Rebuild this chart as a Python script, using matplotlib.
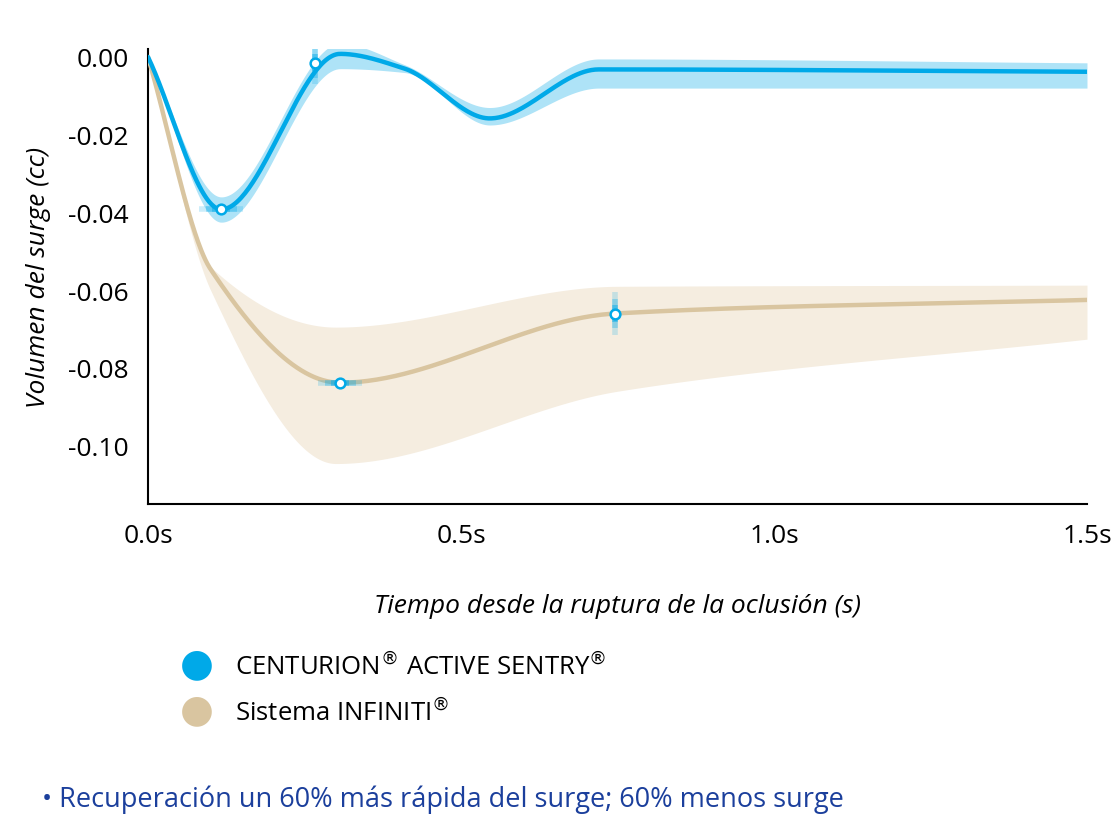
import numpy as np
import matplotlib
matplotlib.use("Agg")
import matplotlib.pyplot as plt

plt.rcParams['font.family'] = ['Open Sans', 'DejaVu Sans']

blue_t = [0.0, 0.117, 0.307, 0.41, 0.546, 0.72, 1.5]
blue_v = [0.0, -0.0392, 0.0008, -0.003, -0.0158, -0.0032, -0.0038]
blue_hi = [0.0, -0.036, 0.0035, -0.002, -0.013, -0.0005, -0.0015]
blue_lo = [0.0, -0.0425, -0.003, -0.004, -0.0175, -0.008, -0.008]

tan_t = [0.0, 0.1, 0.307, 0.746, 1.5]
tan_v = [0.0, -0.0546, -0.0838, -0.066, -0.0625]
tan_hi_t = [0.0, 0.1, 0.3, 0.75, 1.5]
tan_hi = [0.0, -0.054, -0.0695, -0.059, -0.0587]
tan_lo_t = [0.0, 0.1, 0.3, 0.75, 1.5]
tan_lo = [0.0, -0.060, -0.1046, -0.086, -0.0726]

markers_blue = [(0.117, -0.0392, 'h'), (0.267, -0.0015, 'v')]
markers_tan = [(0.307, -0.0838, 'h'), (0.746, -0.066, 'v')]

xticks = [0.0, 0.5, 1.0, 1.5]
xticklabels = ['0.0s', '0.5s', '1.0s', '1.5s']
yticks = [0.0, -0.02, -0.04, -0.06, -0.08, -0.10]
yticklabels = ['0.00', '-0.02', '-0.04', '-0.06', '-0.08', '-0.10']

BLUE = '#00a9e8'
BLUE_BAND = '#aee3f7'
TAN = '#d9c5a0'
TAN_BAND = '#f5ede0'


def smooth(x, y, n=60):
    x = np.asarray(x, float); y = np.asarray(y, float)
    h = np.diff(x); d = np.diff(y) / h
    m = np.zeros_like(y)
    m[0] = d[0]; m[-1] = d[-1]
    for i in range(1, len(x) - 1):
        if d[i - 1] * d[i] <= 0:
            m[i] = 0
        else:
            w1 = 2 * h[i] + h[i - 1]; w2 = h[i] + 2 * h[i - 1]
            m[i] = (w1 + w2) / (w1 / d[i - 1] + w2 / d[i])
    xs, ys = [], []
    for i in range(len(x) - 1):
        s = np.linspace(0, 1, n, endpoint=False)
        h00 = 2*s**3 - 3*s**2 + 1; h10 = s**3 - 2*s**2 + s
        h01 = -2*s**3 + 3*s**2; h11 = s**3 - s**2
        xs.append(x[i] + s * h[i])
        ys.append(h00*y[i] + h10*h[i]*m[i] + h01*y[i+1] + h11*h[i]*m[i+1])
    xs.append([x[-1]]); ys.append([y[-1]])
    return np.concatenate(xs), np.concatenate(ys)


fig = plt.figure(figsize=(11.16, 8.37), dpi=100)
ax = fig.add_axes([0.1326, 0.3967, 0.8414, 0.5433])

grid = np.linspace(0, 1.5, 600)
for t, v, ht, hi, lt, lo, c, bc in [(tan_t, tan_v, tan_hi_t, tan_hi, tan_lo_t, tan_lo, TAN, TAN_BAND),
                                    (blue_t, blue_v, blue_t, blue_hi, blue_t, blue_lo, BLUE, BLUE_BAND)]:
    xh, yh = smooth(ht, hi); xl, yl = smooth(lt, lo)
    ax.fill_between(grid, np.interp(grid, xl, yl), np.interp(grid, xh, yh), color=bc, lw=0, zorder=1)
    xs, ys = smooth(t, v)
    ax.plot(xs, ys, color=c, lw=3.2, zorder=3, solid_capstyle='round')

for mk in markers_blue + markers_tan:
    t, v, o = mk
    for k, a in [(1.0, 0.2), (0.7, 0.3), (0.4, 0.45)]:
        if o == 'h':
            ax.plot([t - 0.035 * k, t + 0.035 * k], [v, v], color=BLUE, lw=4, alpha=a, zorder=4,
                    solid_capstyle='butt')
        else:
            ax.plot([t, t], [v - 0.0055 * k, v + 0.0055 * k], color=BLUE, lw=4, alpha=a, zorder=4,
                    solid_capstyle='butt')
    ax.plot([t], [v], 'o', ms=7, mfc='white', mec=BLUE, mew=1.8, zorder=5)

ax.set_xlim(0, 1.5)
ax.set_ylim(-0.115, 0.002)
ax.set_xticks(xticks); ax.set_xticklabels(xticklabels)
ax.set_yticks(yticks); ax.set_yticklabels(yticklabels)
ax.tick_params(length=0, labelsize=19, pad=14)
for s in ['top', 'right']:
    ax.spines[s].set_visible(False)
for s in ['left', 'bottom']:
    ax.spines[s].set_linewidth(1.5)
ax.set_ylabel('Volumen del surge (cc)', fontsize=19, style='italic', labelpad=12)
ax.set_xlabel('Tiempo desde la ruptura de la oclusión (s)', fontsize=19, style='italic', labelpad=32)

fig.text(0.1765, 1 - 665 / 837, '●', color=BLUE, fontsize=28, ha='center', va='center')
fig.text(0.1765, 1 - 711 / 837, '●', color=TAN, fontsize=28, ha='center', va='center')
t1 = fig.text(235 / 1116, 1 - 667 / 837, 'CENTURION', fontsize=18.5, va='center')
fig.text(235 / 1116, 1 - 667 / 837,
         'CENTURION$^{\u00ae}$ ACTIVE SENTRY$^{\u00ae}$', fontsize=18.5, va='center', alpha=0)
t1.set_text('CENTURION$^{\u00ae}$ ACTIVE SENTRY$^{\u00ae}$')
fig.text(235 / 1116, 1 - 713 / 837, 'Sistema INFINITI$^{\u00ae}$', fontsize=18.5, va='center')
fig.text(42 / 1116, 1 - 800 / 837, '• Recuperación un 60% más rápida del surge; 60% menos surge',
         fontsize=19.5, color='#1b3f9c', va='center')

fig.savefig('out.png', dpi=100)
